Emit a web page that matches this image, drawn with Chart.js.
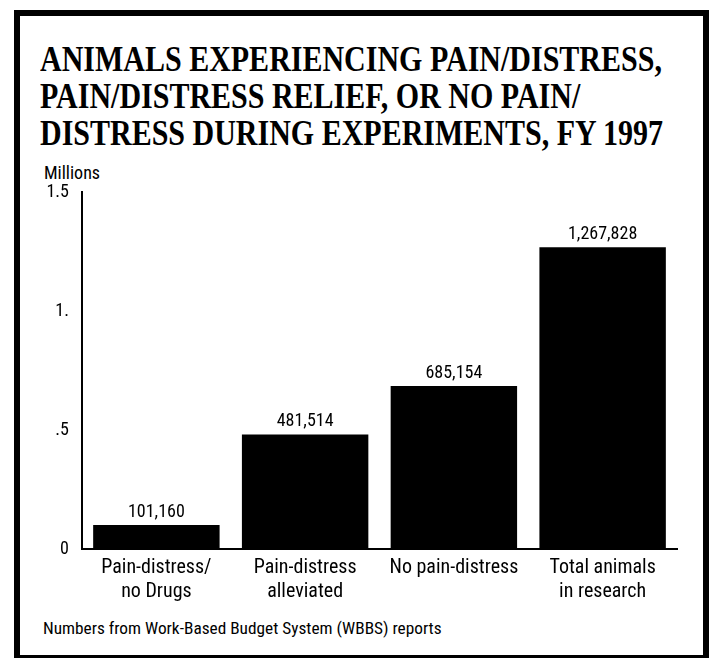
<!DOCTYPE html>
<html>
<head>
<meta charset="utf-8">
<script src="https://cdn.jsdelivr.net/npm/chart.js@4/dist/chart.umd.min.js"></script>
<style>
  html, body { margin: 0; padding: 0; background: #fff; }
  body { width: 716px; height: 661px; position: relative; overflow: hidden; }
  #frame { position: absolute; left: 14px; top: 10px; width: 695px; height: 648px;
           border: 6px solid #000; border-bottom-width: 3px; box-sizing: border-box; }
  #title { position: absolute; left: 40px; top: 41px; white-space: nowrap;
           font-family: "Liberation Serif", "Times New Roman", serif; font-weight: bold;
           font-size: 36px; line-height: 37px; color: #000; transform-origin: 0 0; }
  .narrow { font-family: "Roboto Condensed", "Liberation Sans Narrow", "DejaVu Sans Condensed", sans-serif; color:#000; white-space: nowrap; }
  #millions { position: absolute; left: 44px; top: 164px; font-size: 18px; line-height: 18px; }
  #note { position: absolute; left: 43px; top: 620px; font-size: 17.3px; line-height: 17px; }
  #c { position: absolute; left: 0; top: 0; }
</style>
</head>
<body>
<div id="frame"></div>
<div id="title">ANIMALS EXPERIENCING PAIN/DISTRESS,<br>PAIN/DISTRESS RELIEF, OR NO PAIN/<br>DISTRESS DURING EXPERIMENTS, FY 1997</div>
<div id="millions" class="narrow">Millions</div>
<div id="note" class="narrow">Numbers from Work-Based Budget System (WBBS) reports</div>
<canvas id="c" width="716" height="661"></canvas>
<script>
const categories = [["Pain-distress/", "no Drugs"], ["Pain-distress", "alleviated"], ["No pain-distress"], ["Total animals", "in research"]];
const animalCounts = [101160, 481514, 685154, 1267828];
const valuesMillions = [0.101160, 0.481514, 0.685154, 1.267828];
const yTickValues = [0, 0.5, 1, 1.5];
const yTickLabels = ["0", ".5", "1.", "1.5"];

const NARROW = '"Roboto Condensed", "Liberation Sans Narrow", "DejaVu Sans Condensed", sans-serif';

// condense title to match the reference width
(function(){
  const t = document.getElementById('title');
  const w = t.getBoundingClientRect().width;
  t.style.transform = 'scaleX(' + (623 / w) + ')';
})();

const valueLabelPlugin = {
  id: 'valueLabels',
  afterDatasetsDraw(chart) {
    const ctx = chart.ctx;
    const meta = chart.getDatasetMeta(0);
    ctx.save();
    ctx.fillStyle = '#000';
    ctx.font = '18px ' + NARROW;
    ctx.textAlign = 'center';
    ctx.textBaseline = 'alphabetic';
    meta.data.forEach((bar, i) => {
      ctx.fillText(animalCounts[i].toLocaleString('en-US'), bar.x, bar.y - 8);
    });
    ctx.restore();
  }
};

new Chart(document.getElementById('c'), {
  type: 'bar',
  data: {
    labels: categories,
    datasets: [{
      data: valuesMillions,
      backgroundColor: '#000',
      borderWidth: 0,
      barPercentage: 0.85,
      categoryPercentage: 1.0
    }]
  },
  options: {
    responsive: false,
    animation: false,
    layout: { padding: { left: 0, top: 192, right: 39, bottom: 42 } },
    plugins: { legend: { display: false }, tooltip: { enabled: false }, title: { display: false } },
    scales: {
      x: {
        grid: { display: false, drawTicks: false },
        border: { display: true, color: '#000', width: 2 },
        ticks: { color: '#000', padding: 7, font: { family: NARROW, size: 20, lineHeight: 1.2 }, maxRotation: 0 },
        afterFit(scale) { scale.height = 70; }
      },
      y: {
        min: 0, max: 1.5,
        grid: { display: false, drawTicks: false },
        border: { display: true, color: '#000', width: 2 },
        afterBuildTicks(scale) { scale.ticks = yTickValues.map(v => ({ value: v })); },
        ticks: {
          color: '#000', padding: 13, font: { family: NARROW, size: 18 },
          callback(value) { const i = yTickValues.indexOf(value); return i >= 0 ? yTickLabels[i] : ''; }
        },
        afterFit(scale) { scale.width = 82; }
      }
    }
  },
  plugins: [valueLabelPlugin]
});
</script>
</body>
</html>
